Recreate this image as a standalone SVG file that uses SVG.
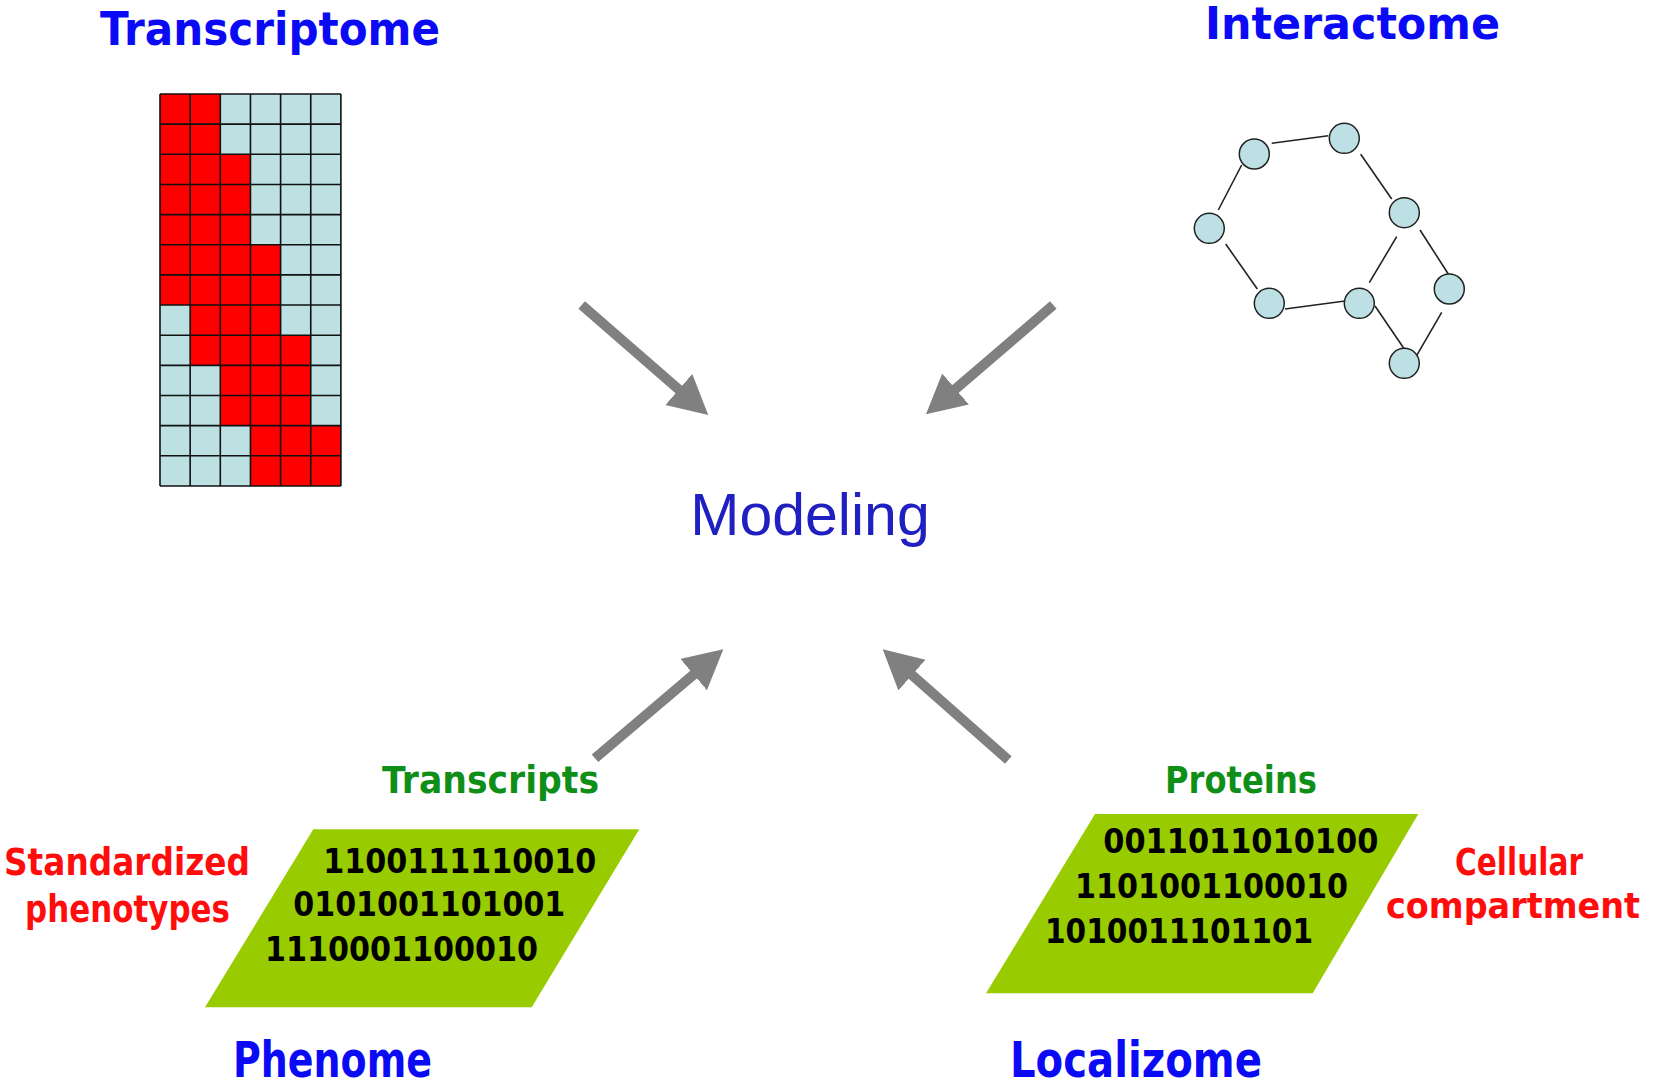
<svg xmlns="http://www.w3.org/2000/svg" width="1656" height="1088" viewBox="0 0 1656 1088">
<style>
.c{font-family:"DejaVu Sans",Verdana,sans-serif;font-weight:bold}
.blue{fill:#0a0af5}
.red{fill:#ff0d0d}
.grn{fill:#0f8f18}
.bin{fill:#000000}
.cell{fill:#bde0e3}
.gl{stroke:#111;stroke-width:1.6;fill:none}
.edge{stroke:#222;stroke-width:1.6}
.node{fill:#bce0e3;stroke:#222;stroke-width:1.5}
.plate{fill:#99cc00}
.arr{stroke:#808080;stroke-width:10;fill:none;marker-end:url(#head)}
</style>
<defs>
<marker id="head" markerUnits="userSpaceOnUse" markerWidth="40" markerHeight="42" refX="3" refY="20.5" orient="auto">
<path d="M0,0 L39,20.5 L0,41 z" fill="#808080"/>
</marker>
</defs>
<rect width="1656" height="1088" fill="#ffffff"/>

<g id="transcriptome">
<text class="c blue" x="100" y="45" font-size="47" textLength="340" lengthAdjust="spacingAndGlyphs">Transcriptome</text>
<rect class="cell" x="160" y="94" width="180.9" height="391.95"/>
<polygon fill="#ff0000" points="160,94 220.3,94 220.3,154.3 250.45,154.3 250.45,244.75 280.6,244.75 280.6,335.2 310.75,335.2 310.75,425.65 340.9,425.65 340.9,485.95 250.45,485.95 250.45,425.65 220.3,425.65 220.3,365.35 190.15,365.35 190.15,305.05 160,305.05"/>
<path class="gl" d="M160,94V485.95M190.15,94V485.95M220.3,94V485.95M250.45,94V485.95M280.6,94V485.95M310.75,94V485.95M340.9,94V485.95M160,94H340.9M160,124.15H340.9M160,154.3H340.9M160,184.45H340.9M160,214.6H340.9M160,244.75H340.9M160,274.9H340.9M160,305.05H340.9M160,335.2H340.9M160,365.35H340.9M160,395.5H340.9M160,425.65H340.9M160,455.8H340.9M160,485.95H340.9"/>
</g>

<g id="interactome">
<text class="c blue" x="1205" y="39" font-size="45" textLength="295" lengthAdjust="spacingAndGlyphs">Interactome</text>
<g>
<line class="edge" x1="1271.7" y1="143.3" x2="1328.3" y2="135.7"/>
<line class="edge" x1="1241.7" y1="165" x2="1218.3" y2="210"/>
<line class="edge" x1="1225.7" y1="244" x2="1257.3" y2="289"/>
<line class="edge" x1="1285" y1="309" x2="1345" y2="301"/>
<line class="edge" x1="1360.7" y1="154.3" x2="1391.7" y2="199"/>
<line class="edge" x1="1396.7" y1="236.7" x2="1369.3" y2="282.7"/>
<line class="edge" x1="1420" y1="230" x2="1448.3" y2="274"/>
<line class="edge" x1="1375" y1="306" x2="1405" y2="350"/>
<line class="edge" x1="1441.7" y1="312.3" x2="1416" y2="356.7"/>
</g>
<circle class="node" cx="1254.3" cy="154" r="15"/>
<circle class="node" cx="1344.3" cy="138.3" r="15"/>
<circle class="node" cx="1209.3" cy="228.3" r="15"/>
<circle class="node" cx="1404.3" cy="212.7" r="15"/>
<circle class="node" cx="1269.3" cy="303.3" r="15"/>
<circle class="node" cx="1359.3" cy="303.3" r="15"/>
<circle class="node" cx="1449.3" cy="289" r="15"/>
<circle class="node" cx="1404.3" cy="363.3" r="15"/>
</g>

<g id="modeling">
<text x="810" y="535" font-family="'Liberation Sans',Arial,sans-serif" font-size="59" fill="#2020c0" text-anchor="middle">Modeling</text>
</g>

<g id="phenome">
<polygon class="plate" points="313.3,829.3 639.3,829.3 531.7,1007.3 205,1007.3"/>
<text class="c bin" x="323.3" y="872.7" font-size="34" textLength="273" lengthAdjust="spacingAndGlyphs">1100111110010</text>
<text class="c bin" x="293.3" y="916" font-size="34" textLength="272" lengthAdjust="spacingAndGlyphs">0101001101001</text>
<text class="c bin" x="265" y="960.7" font-size="34" textLength="273" lengthAdjust="spacingAndGlyphs">1110001100010</text>
<text class="c grn" x="382" y="793.3" font-size="37" textLength="217" lengthAdjust="spacingAndGlyphs">Transcripts</text>
<text class="c red" x="4" y="875" font-size="37" textLength="246" lengthAdjust="spacingAndGlyphs">Standardized</text>
<text class="c red" x="25" y="921.7" font-size="37" textLength="205" lengthAdjust="spacingAndGlyphs">phenotypes</text>
<text class="c blue" x="233" y="1077" font-size="49" textLength="199" lengthAdjust="spacingAndGlyphs">Phenome</text>
</g>

<g id="localizome">
<polygon class="plate" points="1095,814 1418.3,814 1312.7,993.3 986,993.3"/>
<text class="c bin" x="1103.3" y="853.3" font-size="34" textLength="275" lengthAdjust="spacingAndGlyphs">0011011010100</text>
<text class="c bin" x="1075" y="898.3" font-size="34" textLength="273" lengthAdjust="spacingAndGlyphs">1101001100010</text>
<text class="c bin" x="1045" y="943.3" font-size="34" textLength="268" lengthAdjust="spacingAndGlyphs">1010011101101</text>
<text class="c grn" x="1165" y="793.3" font-size="37" textLength="152" lengthAdjust="spacingAndGlyphs">Proteins</text>
<text class="c red" x="1455" y="875" font-size="37" textLength="128" lengthAdjust="spacingAndGlyphs">Cellular</text>
<text class="c red" x="1386" y="918" font-size="35" textLength="254" lengthAdjust="spacingAndGlyphs">compartment</text>
<text class="c blue" x="1010" y="1077" font-size="49" textLength="252" lengthAdjust="spacingAndGlyphs">Localizome</text>
</g>

<g id="connectors">
<line class="arr" x1="581.7" y1="305" x2="681.1" y2="391.4"/>
<line class="arr" x1="1053.3" y1="305" x2="953.3" y2="390.9"/>
<line class="arr" x1="595" y1="758.3" x2="695.9" y2="672.6"/>
<line class="arr" x1="1008.3" y1="760" x2="909.7" y2="673.1"/>
</g>
</svg>
